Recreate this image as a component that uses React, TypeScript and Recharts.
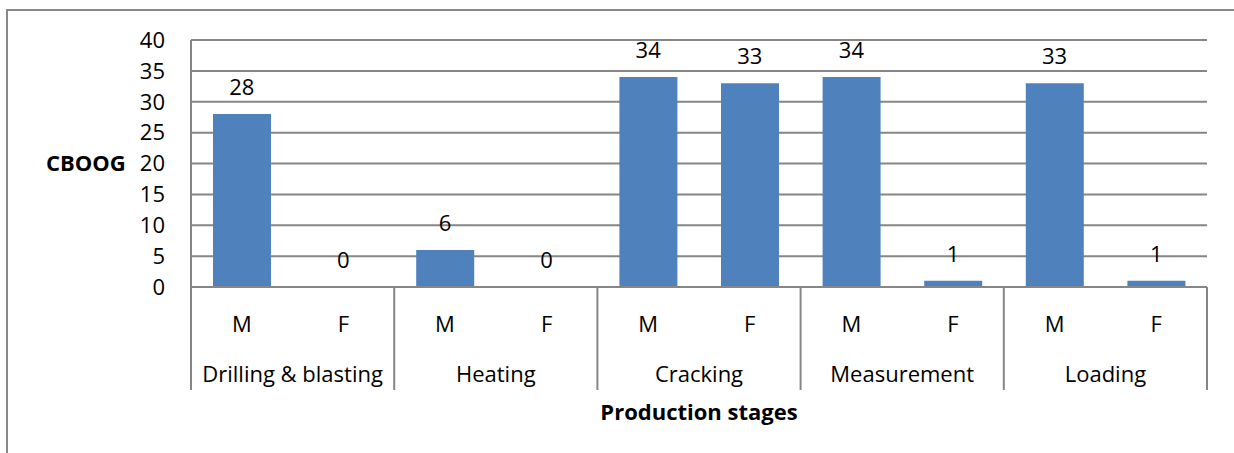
import React from 'react';
import {
    ComposedChart, Bar, Line, XAxis, YAxis, CartesianGrid, LabelList,
} from 'recharts';

// Production stages, each split into male (M) and female (F) counts
const stages = ['Drilling & blasting', 'Heating', 'Cracking', 'Measurement', 'Loading'];
const sexes = ['M', 'F'];
const maleCounts = [28, 6, 34, 34, 33];
const femaleCounts = [0, 0, 33, 1, 1];
const yTicks = [0, 5, 10, 15, 20, 25, 30, 35, 40];

const data = stages.flatMap((stage, i) => [
    { key: `${stage}-M`, stage, sex: sexes[0], value: maleCounts[i] },
    { key: `${stage}-F`, stage, sex: sexes[1], value: femaleCounts[i] },
]);

const CHART_W = 1234;
const CHART_H = 453;
const MARGIN = { top: 40, right: 27, left: 0, bottom: 63 };
const Y_AXIS_W = 191;
const X_AXIS_H = 103;
const FONT = '"Open Sans", sans-serif';
const FONT_SIZE = 22;
const GRID = '#868686';
const BAND = (CHART_W - MARGIN.left - MARGIN.right - Y_AXIS_W) / data.length;

// Two-level category tick: M/F on top, stage name below, with group dividers
function StageTick(props: any) {
    const { x, y, payload } = props;
    const i = payload.index;
    const row = data[i];
    const first = i % 2 === 0;
    return (
        <g>
            <text x={x} y={y + 36} textAnchor="middle" dominantBaseline="central"
                fontFamily={FONT} fontSize={FONT_SIZE} fill="#000">{row.sex}</text>
            {first && (
                <>
                    <line x1={x - BAND / 2} x2={x - BAND / 2} y1={y} y2={y + X_AXIS_H} stroke={GRID} strokeWidth={2} />
                    <text x={x + BAND / 2} y={y + 86} textAnchor="middle" dominantBaseline="central"
                        fontFamily={FONT} fontSize={FONT_SIZE} fill="#000">{row.stage}</text>
                </>
            )}
            {i === data.length - 1 && (
                <line x1={x + BAND / 2} x2={x + BAND / 2} y1={y} y2={y + X_AXIS_H} stroke={GRID} strokeWidth={2} />
            )}
        </g>
    );
}

export default function App() {
    return (
        <div style={{ position: 'absolute', left: 0, top: 0, width: CHART_W, height: CHART_H, overflow: 'hidden', background: '#fff' }}>
            <div style={{ position: 'absolute', left: 6, top: 9, width: 1300, height: 600, border: '2px solid #898989' }} />
            <div style={{ position: 'absolute', left: 0, top: 0 }}>
                <ComposedChart width={CHART_W} height={CHART_H} data={data} margin={MARGIN} barSize={58}>
                    <CartesianGrid vertical={false} stroke={GRID} strokeWidth={2} />
                    <XAxis
                        dataKey="key"
                        interval={0}
                        height={X_AXIS_H}
                        tickLine={false}
                        tickSize={0}
                        tickMargin={0}
                        axisLine={{ stroke: GRID, strokeWidth: 2 }}
                        tick={<StageTick />}
                        label={{
                            value: 'Production stages', position: 'bottom', offset: 14,
                            fontFamily: FONT, fontSize: FONT_SIZE, fontWeight: 'bold', fill: '#000',
                        }}
                    />
                    <YAxis
                        domain={[0, 40]}
                        ticks={yTicks}
                        interval={0}
                        width={Y_AXIS_W}
                        tickLine={false}
                        tickSize={0}
                        tickMargin={26}
                        axisLine={{ stroke: GRID, strokeWidth: 2 }}
                        tick={{ fontFamily: FONT, fontSize: FONT_SIZE, fill: '#000' }}
                        label={{
                            value: 'CBOOG', position: 'insideLeft', offset: 46, angle: 0,
                            fontFamily: FONT, fontSize: FONT_SIZE, fontWeight: 'bold', fill: '#000',
                        }}
                    />
                    <Bar dataKey="value" fill="#4F81BD" isAnimationActive={false} />
                    {/* invisible series that carries the value labels, so zero bars get one too */}
                    <Line dataKey="value" stroke="none" dot={false} activeDot={false} isAnimationActive={false}>
                        <LabelList dataKey="value" position="top" offset={19}
                            fill="#000" fontFamily={FONT} fontSize={FONT_SIZE} />
                    </Line>
                </ComposedChart>
            </div>
        </div>
    );
}
